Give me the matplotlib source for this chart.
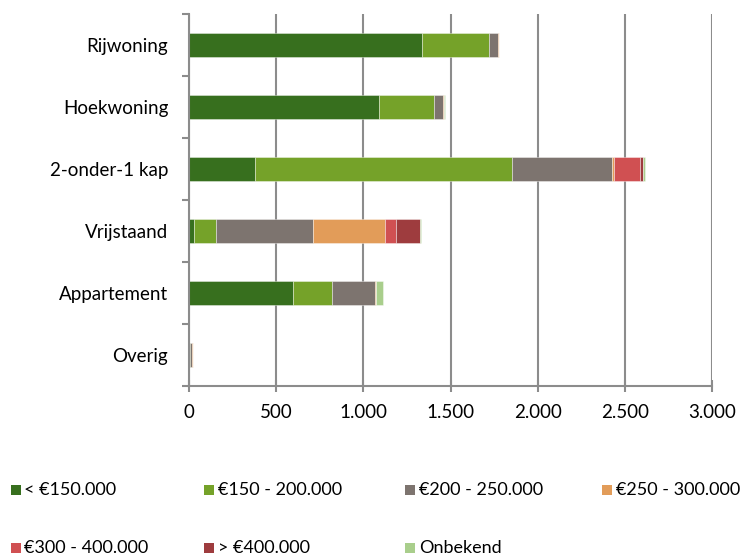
import matplotlib
matplotlib.use("Agg")
import matplotlib.pyplot as plt
from matplotlib.patches import Rectangle
from matplotlib.ticker import FuncFormatter

# Woningtypen (van boven naar beneden)
categories = ["Rijwoning", "Hoekwoning", "2-onder-1 kap", "Vrijstaand", "Appartement", "Overig"]

# Prijsklassen
series_labels = ["< €150.000", "€150 - 200.000", "€200 - 250.000", "€250 - 300.000",
                 "€300 - 400.000", "> €400.000", "Onbekend"]

lt_150 = [1335, 1090, 380, 29, 597, 2]
p150_200 = [386, 317, 1471, 126, 223, 4]
p200_250 = [50, 50, 578, 556, 247, 12]
p250_300 = [6, 4, 9, 412, 6, 3]
p300_400 = [2, 3, 151, 66, 0, 1]
gt_400 = [1, 1, 14, 135, 0, 0]
onbekend = [0, 2, 13, 5, 40, 1]

series = [lt_150, p150_200, p200_250, p250_300, p300_400, gt_400, onbekend]
colors = ["#376F1E", "#75A229", "#7D746F", "#E29C59", "#D05052", "#9E3C3E", "#A9CE8C"]

xticks = [0, 500, 1000, 1500, 2000, 2500, 3000]

FONT = "Lato"
FS = 13.5
LEG_FS = 13
plt.rcParams["font.family"] = [FONT, "DejaVu Sans"]

W, H = 747, 559
fig = plt.figure(figsize=(W / 100, H / 100), dpi=100)
ax = fig.add_axes([189 / W, 1 - 386 / H, (712 - 189) / W, (386 - 14) / H])

ypos = list(range(len(categories)))
left = [0] * len(categories)
for vals, col, lab in zip(series, colors, series_labels):
    ax.barh(ypos, vals, left=left, height=0.4, color=col, label=lab,
            edgecolor=(1, 1, 1, 0.45), linewidth=0.6, zorder=3)
    left = [a + b for a, b in zip(left, vals)]

ax.set_ylim(len(categories) - 0.5, -0.5)
ax.set_xlim(0, 3000)
ax.set_xticks(xticks)
ax.xaxis.set_major_formatter(FuncFormatter(lambda v, p: f"{int(v):,}".replace(",", ".")))
ax.set_yticks(ypos)
ax.set_yticklabels(categories)
ax.set_yticks([i - 0.5 for i in range(len(categories) + 1)], minor=True)

grid_col = "#8C8C8C"
ax.grid(axis="x", color=grid_col, linewidth=1.5, zorder=0)
for s in ["top", "right"]:
    ax.spines[s].set_visible(False)
ax.spines["left"].set_color(grid_col)
ax.spines["left"].set_linewidth(1.5)
ax.spines["bottom"].set_color(grid_col)
ax.spines["bottom"].set_linewidth(1.5)
ax.spines["left"].set_zorder(4)

ax.tick_params(axis="y", which="major", length=0, pad=15, labelsize=FS, labelcolor="black")
ax.tick_params(axis="y", which="minor", length=5, width=1.5, color=grid_col)
ax.tick_params(axis="x", length=8, width=1.5, color=grid_col, direction="inout",
               pad=9, labelsize=FS, labelcolor="black")

# Legenda in twee rijen
leg_cols_marker = [10.5, 204, 405, 602]
leg_rows = [490, 548]
sq = 10
for i, (lab, col) in enumerate(zip(series_labels, colors)):
    r, c = divmod(i, 4)
    x0 = leg_cols_marker[c]
    yc = leg_rows[r]
    fig.patches.append(Rectangle((x0 / W, 1 - (yc + sq / 2) / H), sq / W, sq / H,
                                 transform=fig.transFigure, facecolor=col, edgecolor="none"))
    fig.text((x0 + sq + 4) / W, 1 - yc / H, lab, fontsize=LEG_FS, va="center", ha="left")

fig.savefig("out.png", dpi=100)
